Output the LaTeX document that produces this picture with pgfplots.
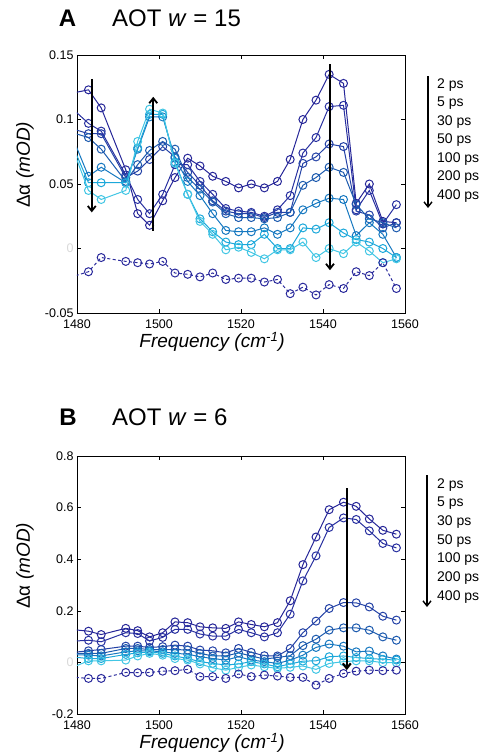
\documentclass[border=0pt]{standalone}
\usepackage{fontspec}
\setmainfont{Liberation Sans}
\usepackage{pgfplots}
\usepackage{pgfplotstable}
\pgfplotsset{compat=1.18}
\usetikzlibrary{arrows.meta}

\definecolor{c2}{RGB}{38,38,152}
\definecolor{c5}{RGB}{40,48,160}
\definecolor{c30}{RGB}{36,66,166}
\definecolor{c50}{RGB}{28,90,174}
\definecolor{c100}{RGB}{22,120,192}
\definecolor{c200}{RGB}{28,168,218}
\definecolor{c400}{RGB}{66,198,228}
\definecolor{cdash}{RGB}{42,42,156}

% AOT w = 15
\pgfplotstableread{
x      p2     p5     p30    p50    p100   p200   p400   dash
1479.7 0.121  0.106  0.092  0.089  0.080  0.074  0.071  -0.021
1482.8 0.123  0.097  0.089  0.086  0.056  0.051  0.045  -0.018
1485.9 0.109  0.091  0.089  0.077  0.063  0.051  0.038  -0.007
1491.9 0.061  0.057  0.055  0.052  0.051  0.051  0.045  -0.010
1494.8 0.027  0.038  0.060  0.065  0.077  0.078  0.083  -0.011
1497.7 0.018  0.027  0.069  0.076  0.102  0.104  0.108  -0.012
1500.9 0.037  0.042  0.079  0.083  0.102  0.104  0.105  -0.010
1503.9 0.055  0.065  0.071  0.077  0.070  0.067  0.066  -0.019
1507.0 0.070  0.065  0.059  0.055  0.052  0.042  0.042  -0.020
1510.0 0.064  0.052  0.049  0.046  0.041  0.023  0.021  -0.022
1513.1 0.056  0.042  0.037  0.036  0.027  0.013  0.011  -0.019
1516.3 0.052  0.031  0.029  0.027  0.014  0.005  -0.001 -0.024
1519.4 0.047  0.029  0.027  0.024  0.013  0.003  0.001  -0.023
1522.5 0.050  0.028  0.027  0.024  0.013  0.003  -0.003 -0.023
1525.7 0.047  0.025  0.024  0.023  0.016  0.011  -0.008 -0.026
1528.9 0.052  0.030  0.028  0.024  0.011  0.000  -0.001 -0.024
1532.0 0.069  0.041  0.028  0.028  0.016  0.000  -0.001 -0.035
1535.1 0.100  0.074  0.066  0.049  0.030  0.016  0.005  -0.030
1538.3 0.115  0.086  0.071  0.055  0.035  0.015  -0.007 -0.036
1541.5 0.135  0.110  0.081  0.063  0.039  0.020  0.000  -0.028
1545.0 0.128  0.111  0.079  0.059  0.038  0.012  -0.004 -0.031
1548.1 0.035  0.030  0.029  0.034  0.010  0.007  0.005  -0.018
1551.3 0.050  0.045  0.026  0.023  0.020  0.005  -0.002 -0.021
1554.6 0.021  0.019  0.016  0.020  0.011  0.000  -0.011 -0.011
1557.9 0.020  0.034  0.020  0.016  -0.007 -0.007 -0.008 -0.031
}\dataA

% AOT w = 6
\pgfplotstableread{
x      p2     p5     p30    p50    p100   p200   p400   dash
1479.7 0.126  0.083  0.040  0.035  0.030  0.020  -0.014 -0.058
1482.8 0.121  0.086  0.045  0.035  0.028  0.015  0.006  -0.062
1485.9 0.108  0.080  0.050  0.035  0.025  0.015  0.006  -0.062
1491.9 0.132  0.115  0.063  0.054  0.041  0.031  0.009  -0.039
1494.8 0.123  0.112  0.063  0.054  0.045  0.037  0.025  -0.040
1497.7 0.099  0.083  0.058  0.050  0.045  0.041  0.035  -0.039
1500.9 0.115  0.097  0.061  0.050  0.041  0.035  0.028  -0.034
1503.9 0.157  0.128  0.067  0.050  0.035  0.025  0.015  -0.032
1507.0 0.154  0.128  0.063  0.048  0.032  0.015  0.009  -0.027
1510.0 0.138  0.110  0.048  0.035  0.022  0.003  -0.006 -0.055
1513.1 0.134  0.102  0.045  0.025  0.015  -0.004 -0.021 -0.055
1516.3 0.132  0.102  0.037  0.025  0.009  -0.010 -0.030 -0.062
1519.4 0.157  0.128  0.054  0.037  0.022  -0.006 -0.019 -0.045
1522.5 0.147  0.115  0.039  0.025  0.009  0.003  -0.010 -0.055
1525.7 0.138  0.099  0.026  0.013  0.003  -0.006 -0.017 -0.049
1528.9 0.154  0.115  0.025  0.019  -0.004 -0.017 -0.023 -0.053
1532.0 0.239  0.187  0.054  0.026  0.009  -0.006 -0.019 -0.058
1535.1 0.379  0.316  0.115  0.065  0.028  0.005  -0.014 -0.058
1538.3 0.486  0.413  0.160  0.090  0.058  0.006  -0.027 -0.088
1541.5 0.592  0.523  0.209  0.125  0.071  0.022  -0.004 -0.062
1545.0 0.621  0.560  0.232  0.134  0.063  0.025  0.003  -0.043
1548.1 0.605  0.554  0.231  0.134  0.041  0.019  0.006  -0.034
1551.3 0.556  0.510  0.215  0.125  0.044  0.015  0.006  -0.030
1554.6 0.512  0.461  0.179  0.099  0.025  0.012  -0.001 -0.032
1557.9 0.497  0.444  0.164  0.086  0.013  0.009  -0.001 -0.030
}\dataB

\tikzset{arr/.style={draw=black,line width=1.8pt,-{Straight Barb[length=5pt,width=8pt]}}}

\pgfplotsset{
  spec/.style={
    scale only axis, width=328pt, height=258pt,
    xmin=1480, xmax=1560,
    xtick={1480,1500,1520,1540,1560},
    xticklabels={1480,1500,1520,1540,1560},
    tick align=inside, major tick length=4pt,
    axis line style={line width=0.8pt},
    tick style={black,line width=0.6pt},
    ticklabel style={font=\fontsize{12.5}{14}\selectfont},
    xticklabel style={yshift=-3pt},
    /pgf/number format/assume math mode=true,
    clip marker paths=true,
    xlabel={\textit{Frequency (cm\textsuperscript{-1})}},
    xlabel style={at={(axis description cs:0.412,-0.1124)},anchor=center,
      font=\fontsize{19}{22}\selectfont},
    ylabel={Δα \textit{(mOD)}},
    ylabel style={at={(axis description cs:-0.1585,0.574)},anchor=center,
      font=\fontsize{19}{22}\selectfont},
    every axis plot/.append style={line width=1pt,mark=o,mark size=4pt,
      mark options={solid,line width=1pt}},
  },
}

\begin{document}
\begin{tikzpicture}
\useasboundingbox (0,0) rectangle (488pt,-755pt);

% panel A
\node[font=\fontsize{24}{28}\selectfont\bfseries,anchor=base] at (67.5pt,-26pt) {A};
\node[font=\fontsize{24}{28}\selectfont,anchor=base west,inner sep=0] at (112pt,-26pt) {AOT \textit{w} = 15};
\begin{axis}[spec, at={(77pt,-313pt)}, anchor=south west,
  ymin=-0.05, ymax=0.15,
  ytick={-0.05,0,0.05,0.1,0.15},
  yticklabels={-0.05,{\textcolor{black!15}{0}},0.05,0.1,0.15}]
\addplot[c2]   table[x=x,y=p2]   {\dataA};
\addplot[c5]   table[x=x,y=p5]   {\dataA};
\addplot[c30]  table[x=x,y=p30]  {\dataA};
\addplot[c50]  table[x=x,y=p50]  {\dataA};
\addplot[c100] table[x=x,y=p100] {\dataA};
\addplot[c200] table[x=x,y=p200] {\dataA};
\addplot[c400] table[x=x,y=p400] {\dataA};
\addplot[cdash,dash pattern=on 3pt off 2.5pt] table[x=x,y=dash] {\dataA};
\draw[arr] (axis cs:1483.6,0.1314) -- (axis cs:1483.6,0.028);
\draw[arr] (axis cs:1498.6,0.0137) -- (axis cs:1498.6,0.1176);
\draw[arr] (axis cs:1541.7,0.1429) -- (axis cs:1541.7,-0.0168);
\end{axis}
\draw[arr,line width=1.4pt] (428pt,-76pt) -- (428pt,-208pt);
\foreach \t [count=\i from 0] in {2,5,30,50,100,200,400}
  \node[anchor=base west,inner sep=0,font=\fontsize{14}{16}\selectfont]
    at (437pt,{-88.3pt-\i*18.45pt}) {\t\ ps};

% panel B
\node[font=\fontsize{24}{28}\selectfont\bfseries,anchor=base] at (68pt,-425pt) {B};
\node[font=\fontsize{24}{28}\selectfont,anchor=base west,inner sep=0] at (112pt,-425pt) {AOT \textit{w} = 6};
\begin{axis}[spec, at={(77pt,-714pt)}, anchor=south west,
  ymin=-0.2, ymax=0.8,
  ytick={-0.2,0,0.2,0.4,0.6,0.8},
  yticklabels={-0.2,{\textcolor{black!15}{0}},0.2,0.4,0.6,0.8}]
\addplot[c2]   table[x=x,y=p2]   {\dataB};
\addplot[c5]   table[x=x,y=p5]   {\dataB};
\addplot[c30]  table[x=x,y=p30]  {\dataB};
\addplot[c50]  table[x=x,y=p50]  {\dataB};
\addplot[c100] table[x=x,y=p100] {\dataB};
\addplot[c200] table[x=x,y=p200] {\dataB};
\addplot[c400] table[x=x,y=p400] {\dataB};
\addplot[cdash,dash pattern=on 3pt off 2.5pt] table[x=x,y=dash] {\dataB};
\draw[arr,line width=2.2pt] (axis cs:1545.8,0.676) -- (axis cs:1545.8,-0.030);
\end{axis}
\draw[arr,line width=1.4pt] (427pt,-475pt) -- (427pt,-607pt);
\foreach \t [count=\i from 0] in {2,5,30,50,100,200,400}
  \node[anchor=base west,inner sep=0,font=\fontsize{14}{16}\selectfont]
    at (437pt,{-488pt-\i*18.7pt}) {\t\ ps};
\end{tikzpicture}
\end{document}
